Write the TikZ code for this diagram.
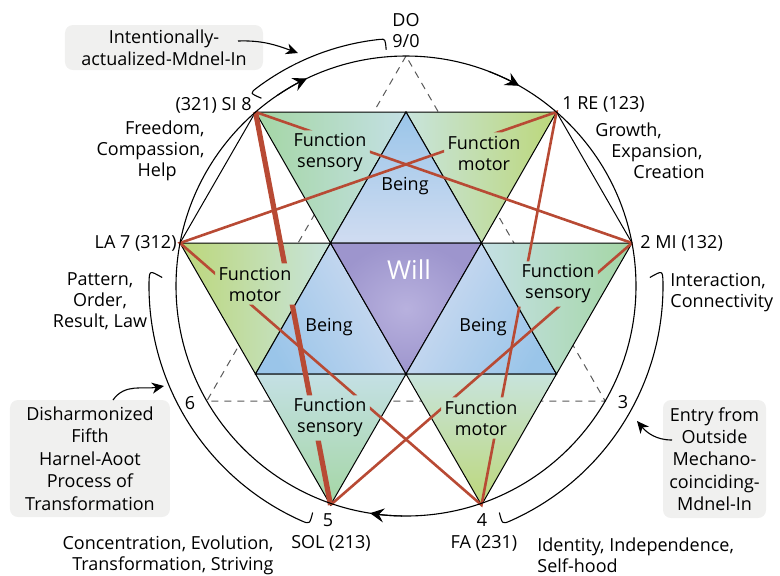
\documentclass[tikz,border=0pt]{standalone}
\usepackage{fontspec}
\setmainfont{Open Sans}
\usetikzlibrary{arrows.meta}

\definecolor{sensgreen}{RGB}{164,214,164}
\definecolor{senslight}{RGB}{196,224,228}
\definecolor{motorgreen}{RGB}{188,215,122}
\definecolor{motorlight}{RGB}{200,228,220}
\definecolor{beingblue}{RGB}{154,197,233}
\definecolor{beinglight}{RGB}{208,220,241}
\definecolor{willpurple}{RGB}{157,149,205}
\definecolor{willlight}{RGB}{184,177,222}
\definecolor{linered}{RGB}{184,74,52}
\definecolor{boxgray}{RGB}{240,240,239}

\tikzset{
  tri/.style={draw=black,line width=0.5pt},
  fn/.style={align=center,inner sep=1.5pt,font=\fontsize{9}{10.5}\selectfont},
  lbl/.style={inner sep=0pt,font=\fontsize{9}{10.5}\selectfont},
  note/.style={fill=boxgray,rounded corners=4pt,align=center,inner sep=2pt,font=\fontsize{9}{11.2}\selectfont},
  redline/.style={draw=linered,line width=1.3pt},
  redthick/.style={draw=linered,line width=2.6pt},
  bracket/.style={draw=black,line width=0.55pt},
  toarrow/.style={bracket,-{Stealth[length=6pt,width=5.5pt,inset=1.8pt]}},
  circarrow/.style={bracket,-{Stealth[length=7pt,width=7pt,inset=2.5pt]}}
}

\begin{document}
\begin{tikzpicture}[x=0.5pt,y=0.5pt]
  \useasboundingbox (-406,-289) rectangle (374,286);
  % points of the star
  \coordinate (p8) at (-150.5,174);
  \coordinate (tm) at (0,174);
  \coordinate (p1) at (150.5,174);
  \coordinate (p7) at (-226,43);
  \coordinate (wl) at (-75.5,43);
  \coordinate (wr) at (75.5,43);
  \coordinate (p2) at (226,43);
  \coordinate (ll) at (-150.5,-88);
  \coordinate (lm) at (0,-88);
  \coordinate (lr) at (150.5,-88);
  \coordinate (p5) at (-75.5,-219);
  \coordinate (p4) at (75.5,-219);
  \coordinate (p9) at (90:230);
  \coordinate (p3) at (-30:230);
  \coordinate (p6) at (210:230);

  % inner triangle 9-3-6
  \draw[gray!70!black,line width=0.5pt,dash pattern=on 3.5pt off 3pt] (p9) -- (p6) -- (p3) -- cycle;

  % triangles
  \shadedraw[tri,left color=sensgreen,middle color=sensgreen,right color=senslight] (p8) -- (tm) -- (wl) -- cycle;
  \shadedraw[tri,left color=motorlight,middle color=motorgreen,right color=motorgreen] (tm) -- (p1) -- (wr) -- cycle;
  \shadedraw[tri,top color=beingblue,middle color=beingblue!65!beinglight,bottom color=beinglight] (tm) -- (wl) -- (wr) -- cycle;
  \shadedraw[tri,left color=motorgreen,middle color=motorgreen,right color=motorlight] (p7) -- (wl) -- (ll) -- cycle;
  \shadedraw[tri,top color=beingblue,middle color=beingblue!65!beinglight,bottom color=beinglight,shading angle=120] (wl) -- (ll) -- (lm) -- cycle;
  \shadedraw[tri,inner color=willlight,outer color=willpurple] (wl) -- (wr) -- (lm) -- cycle;
  \shadedraw[tri,top color=beingblue,middle color=beingblue!65!beinglight,bottom color=beinglight,shading angle=-120] (wr) -- (lm) -- (lr) -- cycle;
  \shadedraw[tri,left color=senslight,middle color=sensgreen,right color=sensgreen] (wr) -- (p2) -- (lr) -- cycle;
  \shadedraw[tri,top color=senslight,middle color=sensgreen!80!senslight,bottom color=sensgreen] (ll) -- (lm) -- (p5) -- cycle;
  \shadedraw[tri,top color=motorlight,middle color=motorgreen!80!motorlight,bottom color=motorgreen] (lm) -- (lr) -- (p4) -- cycle;
  \draw[tri] (p8) -- (p7);
  \draw[tri] (p1) -- (p2);

  \node[fn] (senstop) at (-76,133) {Function\\sensory};
  \node[fn] (motortop) at (78,133) {Function\\motor};
  \node[fn] (beingtop) at (-1,100) {Being};
  \node[fn] (motorleft) at (-151,2) {Function\\motor};
  \node[fn] (beingleft) at (-77,-41) {Being};
  \node[fn,text=white,font=\fontsize{13}{15}\selectfont] (will) at (3,16) {Will};
  \node[fn] (beingright) at (77,-41) {Being};
  \node[fn] (sensright) at (152,2) {Function\\sensory};
  \node[fn] (sensbot) at (-76,-132) {Function\\sensory};
  \node[fn] (motorbot) at (75,-132) {Function\\motor};

  % red lines, broken at the texts
  \begin{scope}
    \clip (-406,-289) -- (374,-289) -- (374,286) -- (-406,286) -- cycle
      (senstop.south west) -- (senstop.north west) -- (senstop.north east) -- (senstop.south east) -- cycle
      (motortop.south west) -- (motortop.north west) -- (motortop.north east) -- (motortop.south east) -- cycle
      (motorleft.south west) -- (motorleft.north west) -- (motorleft.north east) -- (motorleft.south east) -- cycle
      (sensright.south west) -- (sensright.north west) -- (sensright.north east) -- (sensright.south east) -- cycle
      (sensbot.south west) -- (sensbot.north west) -- (sensbot.north east) -- (sensbot.south east) -- cycle
      (motorbot.south west) -- (motorbot.north west) -- (motorbot.north east) -- (motorbot.south east) -- cycle;
    \draw[redline] (p1) -- (p4) -- (p7) -- cycle;
    \draw[redline] (p2) -- (p8);
    \draw[redline] (p5) -- (p2);
    \draw[redthick] (p8) -- (p5);
  \end{scope}

  % circle and its arrows
  \draw[bracket] (0,0) circle (230);
  \draw[circarrow] (124:230) arc[start angle=124, end angle=115.5, radius=230];
  \draw[circarrow] (69:230) arc[start angle=69, end angle=60.5, radius=230];
  \draw[circarrow] (269:230) arc[start angle=269, end angle=261, radius=230];

  % brackets
  \draw[bracket] (127.6:237) .. controls (129:248) .. (127:248) arc[start angle=127, end angle=96, radius=248] .. controls (94.8:248) .. (94.8:237);
  \draw[bracket] (178:244) .. controls (176.5:257) .. (179:257) arc[start angle=179, end angle=246, radius=257] .. controls (248:257) .. (247.6:245);
  \draw[bracket] (2:244) .. controls (3.5:257) .. (1:257) arc[start angle=1, end angle=-66, radius=257] .. controls (-68:257) .. (-67.6:245);

  % labels
  \node[lbl,align=center] (do) at (0,255) {DO\\9/0};
  \node[lbl,anchor=west] (re) at (156,182) {1 RE (123)};
  \node[lbl,anchor=west,align=left] (growth) at (189,135) {Growth,\\\hspace*{8pt}Expansion,\\\hspace*{19pt}Creation};
  \node[lbl,anchor=east] (si) at (-154,181) {(321) SI 8};
  \node[lbl,anchor=east,align=right] (freedom) at (-201,135) {Freedom,\\Compassion,\hspace*{3.5pt}\\Help\hspace*{14pt}};
  \node[lbl,anchor=east] (la) at (-229,43) {LA 7 (312)};
  \node[lbl,align=center] (pattern) at (-306,-15) {Pattern,\\Order,\\Result, Law};
  \node[lbl,anchor=west] (mi) at (234,43) {2 MI (132)};
  \node[lbl,anchor=west,align=left] (interaction) at (264,-6.5) {Interaction,\\Connectivity};
  \node[lbl] (n3) at (217,-116) {3};
  \node[lbl] (n6) at (-216,-117) {6};
  \node[lbl] (n5) at (-78,-234) {5};
  \node[lbl] (n4) at (76,-234) {4};
  \node[lbl] (sol) at (-75,-257) {SOL (213)};
  \node[lbl] (fa) at (78,-257) {FA (231)};
  \node[lbl,anchor=east,align=right] (concentration) at (-132,-269.5) {Concentration, Evolution,\\Transformation, Striving};
  \node[lbl,anchor=west,align=left] (identity) at (131,-269.5) {Identity, Independence,\\Self-hood};

  % notes with arrows
  \node[note,minimum width=99pt,minimum height=22.5pt] (intbox) at (-242,238.5) {Intentionally-\\actualized-Mdnel-In};
  \node[note,minimum width=80pt,minimum height=58.5pt] (dishbox) at (-316,-172.5) {Disharmonized\\Fifth\\Harnel-Aoot\\Process of\\Transformation};
  \node[note,minimum width=51.5pt,minimum height=59pt] (entrybox) at (308.5,-173) {Entry from\\Outside\\Mechano-\\coinciding-\\Mdnel-In};
  \coordinate (intfrom) at (-168,245);
  \coordinate (intto) at (-108,233);
  \coordinate (dishfrom) at (-293,-114);
  \coordinate (dishto) at (-242,-100);
  \coordinate (entryfrom) at (266,-154);
  \coordinate (entryto) at (231,-135);
  \draw[toarrow] (intfrom) to[out=2,in=160] (intto);
  \draw[toarrow] (dishfrom) to[out=55,in=190] (dishto);
  \draw[toarrow] (entryfrom) to[out=180,in=-50] (entryto);
\end{tikzpicture}
\end{document}
